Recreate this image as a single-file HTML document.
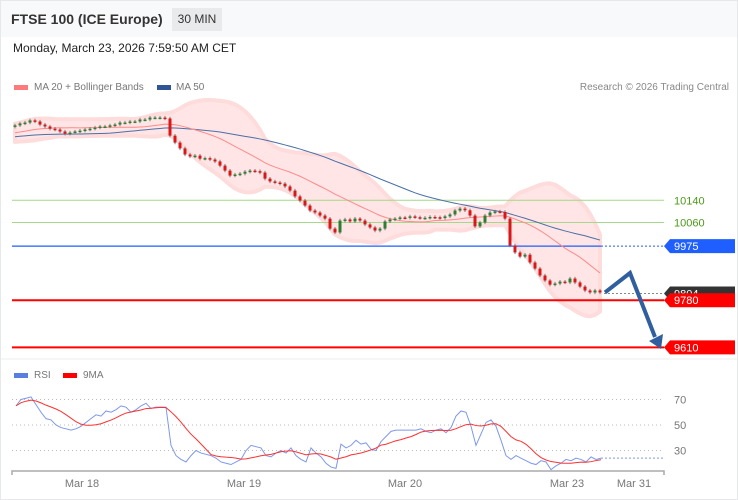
<!DOCTYPE html>
<html><head><meta charset="utf-8">
<style>
body{margin:0;background:#fff;font-family:"Liberation Sans",sans-serif;}
#wrap{position:relative;width:736px;height:498px;border:1px solid #e6e8eb;overflow:hidden;}
.hdr{position:absolute;left:0;top:0;width:736px;height:36px;background:#f8f9fb;}
</style></head><body>
<div id="wrap">
<div class="hdr">
 <div style="position:absolute;left:10px;top:10px;font-size:14px;font-weight:bold;color:#333;">FTSE 100 (ICE Europe)</div>
 <div style="position:absolute;left:171px;top:7px;width:50px;height:23px;background:#e9eaec;font-size:12px;color:#333;line-height:23px;text-align:center;">30 MIN</div>
</div>
<div style="position:absolute;left:12px;top:40px;font-size:12px;color:#222;">Monday, March 23, 2026 7:59:50 AM CET</div>
<svg id="svg" width="736" height="498" style="position:absolute;left:0;top:0"></svg>
</div>
<script>
const prior=[10330,10335,10328,10340,10345,10338,10350,10348,10355,10360,10352,10358,10365,10362,10370,10368,10375,10380,10372,10378,10385,10380,10388,10392,10386,10395,10400,10394,10402,10405];
const closes=[10410,10417,10420,10428,10424,10413,10406,10398,10395,10388,10380,10384,10388,10391,10395,10398,10402,10406,10406,10410,10413,10420,10420,10424,10424,10431,10431,10438,10438,10438,10435,10373,10348,10327,10305,10298,10301,10290,10292,10287,10280,10265,10247,10229,10233,10236,10243,10247,10245,10240,10218,10208,10204,10200,10190,10175,10154,10139,10121,10103,10096,10085,10074,10038,10024,10067,10071,10064,10074,10067,10053,10042,10031,10038,10064,10071,10074,10078,10077,10082,10079,10076,10077,10080,10079,10076,10082,10089,10103,10110,10104,10085,10046,10060,10085,10096,10100,10098,10074,9977,9952,9937,9944,9916,9894,9869,9851,9836,9840,9847,9844,9858,9844,9829,9815,9808,9815,9808];
const rsiValues=[65,70,71,72,66,60,55,54,50,48,47,46,47,49,52,55,58,57,61,60,62,65,64,60,62,65,67,63,64,64,64,34,26,23,21,26,30,28,27,26,24,21,20,19,21,23,30,34,33,32,26,25,28,30,28,32,26,23,21,32,28,25,20,17,16,35,32,34,38,35,36,31,30,37,41,45,46,46,46,46,46,47,45,44,46,47,44,48,57,61,60,49,34,43,52,54,49,38,26,23,26,24,22,20,19,22,21,15,18,20,23,22,24,23,21,25,23,24];
const levels=[10140,10060];
const supports=[9780,9610];
const pivot=9975;
const lastPrice=9804;
const rsiTicks=[70,50,30];
const dateLabels=["Mar 18","Mar 19","Mar 20","Mar 23","Mar 31"];

const S=document.getElementById('svg');const NS='http://www.w3.org/2000/svg';
function mk(t,a,txt){const e=document.createElementNS(NS,t);for(const k in a)e.setAttribute(k,a[k]);if(txt!=null)e.textContent=txt;S.appendChild(e);return e;}
const X=i=>14+i*5;
const Y=p=>221.5+(10060-p)*0.2775;
const RY=v=>424-(v-50)*1.275;
const all=prior.concat(closes);const P=prior.length;
function ma(n,i){const a=all.slice(Math.max(0,i-n+1),i+1);return a.reduce((s,v)=>s+v,0)/a.length;}
function sd(n,i){const a=all.slice(Math.max(0,i-n+1),i+1);const m=a.reduce((s,v)=>s+v,0)/a.length;return Math.sqrt(a.reduce((s,v)=>s+(v-m)*(v-m),0)/a.length);}
let e=mk('rect',{x:13,y:84,width:14,height:5,fill:'#ff7b7b'});
e=mk('text',{x:33,y:89,'font-size':10,fill:'#777'},'MA 20 + Bollinger Bands');
e=mk('rect',{x:156,y:84,width:14,height:5,fill:'#2f5597'});
e=mk('text',{x:175,y:89,'font-size':10,fill:'#777'},'MA 50');
e=mk('text',{x:728,y:89,'font-size':10,fill:'#888','text-anchor':'end'},'Research © 2026 Trading Central');
let up=[],dn=[],m20=[],m50=[];
for(let i=0;i<closes.length;i++){const k=P+i;const m=ma(20,k),s=sd(20,k);up.push(X(i)+','+Y(m+2*s+4));dn.unshift(X(i)+','+Y(m-2*s-4));m20.push(X(i)+','+Y(m));m50.push(X(i)+','+Y(ma(50,k)));}
e=mk('polygon',{points:up.concat(dn).join(' '),fill:'#ffdcdc','fill-opacity':0.75,stroke:'#ffdcdc','stroke-width':4,'stroke-linejoin':'round'});
levels.forEach((v,i)=>{let l=mk('line',{x1:11,x2:663,y1:Y(v),y2:Y(v),stroke:'#a6d78a','stroke-width':1});
let t=mk('text',{x:673,y:Y(v)+4,'font-size':11,fill:'#4c9a1a'},String(v));});
e=mk('line',{x1:11,x2:600,y1:Y(pivot),y2:Y(pivot),stroke:'#1f5fff','stroke-width':1.2});
e=mk('line',{x1:600,x2:663,y1:Y(pivot),y2:Y(pivot),stroke:'#1f5fff','stroke-width':1,'stroke-dasharray':'2,2'});
function tag(v,col,name,txtcol){const y=Y(v);let p=mk('polygon',{points:`663,${y} 669,${y-7} 734,${y-7} 734,${y+7} 669,${y+7}`,fill:col});
let t=mk('text',{x:673,y:y+4,'font-size':11,fill:txtcol||'#fff'},String(v));}
e=mk('line',{x1:603,x2:663,y1:Y(lastPrice),y2:Y(lastPrice),stroke:'#888','stroke-width':1,'stroke-dasharray':'2,2'});
tag(lastPrice,'#333','last-price');
supports.forEach(v=>{let l=mk('line',{x1:11,x2:663,y1:Y(v),y2:Y(v),stroke:'#ff0000','stroke-width':2});tag(v,'#ff0000','support-'+v);});
tag(pivot,'#1f5fff','pivot');
e=mk('polyline',{points:m50.join(' '),fill:'none',stroke:'#4a6fa8','stroke-width':1});
e=mk('polyline',{points:m20.join(' '),fill:'none',stroke:'#ff8a8a','stroke-width':1});
for(let i=0;i<closes.length;i++){const c=closes[i],o=i?closes[i-1]:prior[P-1];const x=X(i);
const hi=Math.max(o,c)+6,lo=Math.min(o,c)-6;
let w=mk('line',{x1:x,x2:x,y1:Y(hi),y2:Y(lo),stroke:'#777','stroke-width':1});
let h=Math.max(1.5,Math.abs(Y(o)-Y(c)));
let b=mk('rect',{x:x-1.5,y:Math.min(Y(o),Y(c)),width:3,height:h,fill:c>=o?'#2e7d32':'#d81818'});}
e=mk('polyline',{points:`${X(closes.length-1)+5},${Y(closes[closes.length-1])} 629,272 654,336`,fill:'none',stroke:'#2f5f9e','stroke-width':4,'stroke-linejoin':'miter'});
e=mk('polygon',{points:'648,340 662,333 660,348',fill:'#2f5f9e'});
e=mk('line',{x1:0,x2:736,y1:358,y2:358,stroke:'#eee','stroke-width':1});
e=mk('rect',{x:13,y:372,width:14,height:5,fill:'#5b7fe0'});
e=mk('text',{x:33,y:377,'font-size':10,fill:'#777'},'RSI');
e=mk('rect',{x:62,y:372,width:14,height:5,fill:'#ff0000'});
e=mk('text',{x:82,y:377,'font-size':10,fill:'#777'},'9MA');
rsiTicks.forEach(v=>{let l=mk('line',{x1:11,x2:663,y1:RY(v),y2:RY(v),stroke:'#bbb','stroke-width':1,'stroke-dasharray':'1,3'});
let t=mk('text',{x:673,y:RY(v)+4,'font-size':11,fill:'#777'},String(v));});
const RX=i=>15+i*5;
let rp=[],mp=[];
for(let i=0;i<rsiValues.length;i++){rp.push(RX(i)+','+RY(rsiValues[i]));const a=rsiValues.slice(Math.max(0,i-8),i+1);mp.push(RX(i)+','+RY(a.reduce((s,v)=>s+v,0)/a.length));}
e=mk('polyline',{points:rp.join(' '),fill:'none',stroke:'#7d98ea','stroke-width':1});
e=mk('polyline',{points:mp.join(' '),fill:'none',stroke:'#ff3030','stroke-width':1});
const lr=rsiValues[rsiValues.length-1];
e=mk('line',{x1:RX(rsiValues.length-1),x2:663,y1:RY(lr),y2:RY(lr),stroke:'#7d98ea','stroke-width':1,'stroke-dasharray':'2,2'});
e=mk('path',{d:'M11,474 V470 H663 V474',fill:'none',stroke:'#aaa','stroke-width':1.5});
const xs=[81,243,404,566,633];
dateLabels.forEach((d,i)=>{let t=mk('text',{x:xs[i],y:486,'font-size':11,fill:'#777','text-anchor':'middle'},d);});
</script>
</body></html>
